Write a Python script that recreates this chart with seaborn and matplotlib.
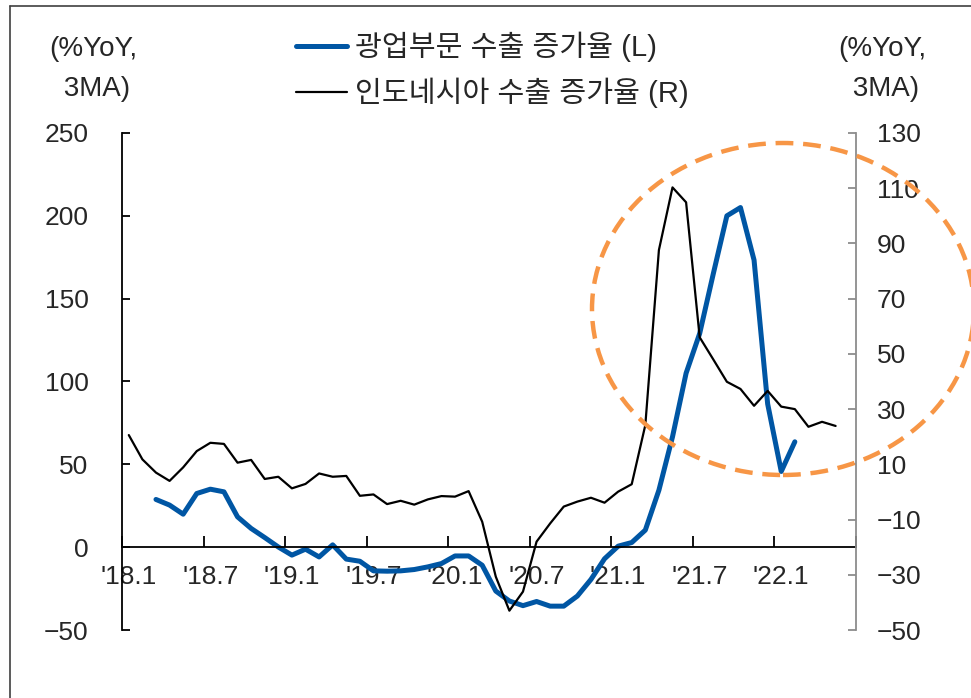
import numpy as np
import pandas as pd
import matplotlib
matplotlib.use("Agg")
import matplotlib.pyplot as plt
from matplotlib.patches import Ellipse
from matplotlib.lines import Line2D
import seaborn as sns

# Monthly categories Jan 2018 .. Jun 2022
months = pd.period_range("2018-01", "2022-06", freq="M")
tick_labels = ["'18.1", "'18.7", "'19.1", "'19.7", "'20.1", "'20.7", "'21.1", "'21.7", "'22.1"]

# Mining-sector export growth (%YoY, 3MA), left axis, from Mar 2018 to Feb 2022
mining_exports = [
    np.nan, np.nan, 28.8, 25.4, 19.9, 32.4, 35.0, 33.4, 18.3, 11.3,
    5.8, 0.1, -4.8, -1.2, -5.9, 1.4, -7.2, -8.5, -14.3, -14.5,
    -14.3, -13.5, -11.9, -9.9, -5.3, -5.3, -10.9, -26.5, -32.5, -35.3,
    -32.8, -35.6, -35.6, -29.5, -19.5, -7.0, 0.6, 2.8, 10.3, 34.4,
    66.6, 105.0, 129.0, 165.0, 200.0, 205.0, 173.3, 86.5, 45.7, 63.6,
    np.nan, np.nan, np.nan, np.nan,
]

# Indonesia total export growth (%YoY, 3MA), right axis, Jan 2018 to May 2022
indonesia_exports = [
    20.6, 11.8, 7.0, 4.0, 8.9, 14.8, 17.8, 17.4, 10.6, 11.6,
    4.7, 5.5, 1.3, 2.9, 6.7, 5.5, 5.8, -1.4, -0.9, -4.4,
    -3.2, -4.6, -2.7, -1.5, -1.7, 0.3, -10.8, -30.7, -43.0, -36.1,
    -18.0, -11.4, -5.3, -3.5, -2.1, -3.9, 0.1, 2.8, 24.2, 87.6,
    110.3, 104.9, 56.0, 48.0, 39.9, 37.3, 31.2, 36.6, 30.9, 30.0,
    23.6, 25.4, 23.9, np.nan,
]

left_ticks = [250, 200, 150, 100, 50, 0, -50]
right_ticks = [130, 110, 90, 70, 50, 30, 10, -10, -30, -50]

label_mining = "광업부문 수출 증가율 (L)"
label_indo = "인도네시아 수출 증가율 (R)"
unit_label = "(%YoY,\n 3MA)"

df = pd.DataFrame({
    "idx": np.arange(len(months)),
    "mining": mining_exports,
    "indonesia": indonesia_exports,
})

sns.set_theme(style="white")
plt.rcParams["font.family"] = ["Liberation Sans Narrow", "Liberation Sans", "Noto Sans CJK KR", "DejaVu Sans"]
plt.rcParams["axes.unicode_minus"] = True

BLUE = "#0056A4"
FS = 19

fig = plt.figure(figsize=(9.71, 6.98), dpi=100)
ax = fig.add_axes([122 / 971, 1 - 630 / 698, (856 - 122) / 971, (630 - 133) / 698])
ax2 = ax.twinx()

sns.lineplot(data=df, x="idx", y="mining", ax=ax, color=BLUE, linewidth=3.6, legend=False)
sns.lineplot(data=df, x="idx", y="indonesia", ax=ax2, color="black", linewidth=1.6, legend=False)

n = len(months)
for a in (ax, ax2):
    a.set_xlim(-0.5, n - 0.5)
    a.set_xlabel("")
    a.set_ylabel("")
    a.grid(False)
    a.set_facecolor("none")

ax.set_ylim(-50, 250)
ax.set_yticks(left_ticks)
ax.set_yticklabels([f"{v}".replace("-", "\u2212") for v in left_ticks], fontsize=FS)
ax2.set_ylim(-50, 130)
ax2.set_yticks(right_ticks)
ax2.set_yticklabels([f"{v}".replace("-", "\u2212") for v in right_ticks], fontsize=FS)

# category axis: ticks between months, labels centred on months
ax.set_xticks(np.arange(-0.5, n, 6))
ax.set_xticks(np.arange(0, n - 1, 6), minor=True)
ax.tick_params(axis="x", which="major", direction="in", length=8, width=1.3, color="black",
               bottom=True, labelbottom=False)
ax.tick_params(axis="x", which="minor", length=0, pad=13, labelsize=FS, labelbottom=True)
ax.set_xticklabels(tick_labels, minor=True, fontsize=FS)
ax.spines["bottom"].set_position(("data", 0))
ax.spines["bottom"].set_linewidth(1.3)
ax.spines["bottom"].set_color("black")
ax.spines["left"].set_linewidth(1.3)
ax.spines["left"].set_color("black")
ax.spines["top"].set_visible(False)
ax.spines["right"].set_visible(False)
ax.tick_params(axis="y", direction="in", length=6, width=1.3, color="black", pad=24)

for s in ("top", "left", "bottom"):
    ax2.spines[s].set_visible(False)
ax2.spines["right"].set_color("#8c8c8c")
ax2.spines["right"].set_linewidth(1.3)
ax2.tick_params(axis="y", direction="in", length=6, width=1.3, color="#8c8c8c", pad=15)

# unit captions
fig.text(93 / 971, 1 - 69 / 698, unit_label, fontsize=FS + 1, ha="center", va="center", linespacing=1.75)
fig.text(882 / 971, 1 - 69 / 698, unit_label, fontsize=FS + 1, ha="center", va="center", linespacing=1.75)

# legend
handles = [Line2D([], [], color=BLUE, lw=3.6), Line2D([], [], color="black", lw=1.6)]
fig.legend(handles, [label_mining, label_indo], loc="center left", bbox_to_anchor=(270 / 971, 1 - 70 / 698),
           frameon=False, fontsize=FS + 2, handlelength=1.75, handletextpad=0.25, labelspacing=0.55)

# highlight ring
fig.add_artist(Ellipse((783 / 971, 1 - 309 / 698), width=2 * 191 / 971, height=2 * 166 / 698,
                       transform=fig.transFigure, fill=False, edgecolor="#F79646",
                       linewidth=3.2, linestyle=(0, (4, 2.2)), zorder=5))

# outer frame
fig.add_artist(Line2D([10 / 971, 10 / 971], [0, 1 - 6 / 698], transform=fig.transFigure, color="#404040", lw=1.2))
fig.add_artist(Line2D([10 / 971, 1], [1 - 6 / 698, 1 - 6 / 698], transform=fig.transFigure, color="#404040", lw=1.2))

fig.savefig("out.png", dpi=100)
